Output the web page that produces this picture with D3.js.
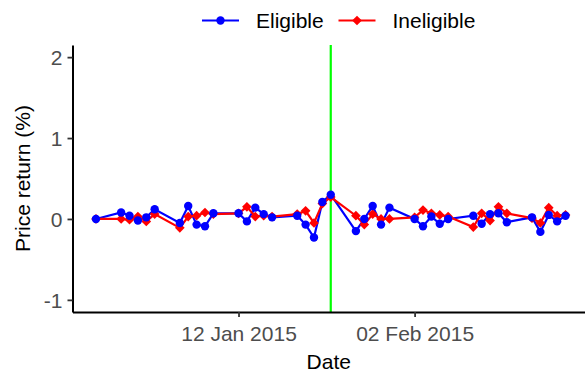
<!DOCTYPE html>
<html>
<head>
<meta charset="utf-8">
<script src="https://cdn.jsdelivr.net/npm/d3@7"></script>
<style>
  body { margin: 0; background: #fff; }
  svg text { font-family: "Liberation Sans", Arial, sans-serif; }
</style>
</head>
<body>
<div id="graphic"></div>
<script>
// trading days, Dec 2014 - Feb 2015
var dates = [
  "2014-12-26", "2014-12-29", "2014-12-30", "2014-12-31", "2015-01-01", "2015-01-02",
  "2015-01-05", "2015-01-06", "2015-01-07", "2015-01-08", "2015-01-09",
  "2015-01-12", "2015-01-13", "2015-01-14", "2015-01-15", "2015-01-16",
  "2015-01-19", "2015-01-20", "2015-01-21", "2015-01-22", "2015-01-23",
  "2015-01-26", "2015-01-27", "2015-01-28", "2015-01-29", "2015-01-30",
  "2015-02-02", "2015-02-03", "2015-02-04", "2015-02-05", "2015-02-06",
  "2015-02-09", "2015-02-10", "2015-02-11", "2015-02-12", "2015-02-13",
  "2015-02-16", "2015-02-17", "2015-02-18", "2015-02-19", "2015-02-20"
];
var eligible = [
  0.00, 0.08, 0.04, -0.02, 0.02, 0.12,
  -0.05, 0.16, -0.07, -0.09, 0.07,
  0.07, -0.03, 0.14, 0.06, 0.02,
  0.04, -0.07, -0.23, 0.21, 0.30,
  -0.15, 0.00, 0.16, -0.07, 0.14,
  0.00, -0.09, 0.03, -0.06, 0.00,
  0.04, -0.06, 0.06, 0.07, -0.04,
  0.02, -0.16, 0.05, -0.03, 0.04
];
var ineligible = [
  0.00, 0.00, -0.01, 0.03, -0.03, 0.06,
  -0.11, 0.03, 0.04, 0.08, 0.06,
  0.07, 0.15, 0.03, 0.04, 0.03,
  0.06, 0.10, -0.05, 0.19, 0.27,
  0.04, -0.07, 0.06, 0.00, 0.00,
  0.02, 0.11, 0.07, 0.05, 0.03,
  -0.10, 0.07, -0.02, 0.15, 0.07,
  0.01, -0.05, 0.14, 0.04, 0.05
];
var seriesNames = ["Eligible", "Ineligible"];
var seriesColors = ["#0000FF", "#FF0000"];
var eventDate = "2015-01-23";
var xTicks = ["2015-01-12", "2015-02-02"];
var yTicks = [-1, 0, 1, 2];

var w = 585, h = 375;
var padL = 72.5, padR = 589, padT = 45, padB = 312;

var parse = d3.utcParse("%Y-%m-%d");

var elig = dates.map(function(d, i){ return [parse(d), eligible[i]]; });
var inel = dates.map(function(d, i){ return [parse(d), ineligible[i]]; });

var d0 = parse(dates[0]), d1 = parse(dates[dates.length - 1]);
var pad = (d1 - d0) * 0.05;

var xScale = d3.scaleUtc()
  .domain([new Date(+d0 - pad), new Date(+d1 + pad)])
  .range([padL, padR]);
var yScale = d3.scaleLinear()
  .domain([-1.15, 2.15])
  .range([padB, padT]);

var svg = d3.select("#graphic")
  .append("svg")
  .attr("width", w)
  .attr("height", h);

// vertical event line
svg.append("line")
  .attr("x1", xScale(parse(eventDate)))
  .attr("x2", xScale(parse(eventDate)))
  .attr("y1", padT)
  .attr("y2", padB)
  .attr("stroke", "#00FF00")
  .attr("stroke-width", 2.2);

var line = d3.line()
  .x(function(d){ return xScale(d[0]); })
  .y(function(d){ return yScale(d[1]); });

svg.append("path").datum(elig)
  .attr("d", line).attr("fill", "none")
  .attr("stroke", seriesColors[0]).attr("stroke-width", 2.2);
svg.append("path").datum(inel)
  .attr("d", line).attr("fill", "none")
  .attr("stroke", seriesColors[1]).attr("stroke-width", 2.2);

var diamond = d3.symbol().type(d3.symbolDiamond2).size(60);

svg.append("g").selectAll("path")
  .data(inel).enter()
  .append("path")
  .attr("d", diamond)
  .attr("transform", function(d){ return "translate(" + xScale(d[0]) + "," + yScale(d[1]) + ")"; })
  .attr("fill", seriesColors[1]);

svg.append("g").selectAll("circle")
  .data(elig).enter()
  .append("circle")
  .attr("cx", function(d){ return xScale(d[0]); })
  .attr("cy", function(d){ return yScale(d[1]); })
  .attr("r", 4.2)
  .attr("fill", seriesColors[0]);

// axes
var xAxis = svg.append("g")
  .attr("transform", "translate(0," + padB + ")")
  .call(d3.axisBottom(xScale)
    .tickValues(xTicks.map(parse))
    .tickFormat(d3.utcFormat("%d %b %Y"))
    .tickSizeInner(5).tickSizeOuter(0).tickPadding(9));
var yAxis = svg.append("g")
  .attr("transform", "translate(" + padL + ",0)")
  .call(d3.axisLeft(yScale)
    .tickValues(yTicks)
    .tickFormat(function(d){ return String(d); })
    .tickSizeInner(5).tickSizeOuter(0).tickPadding(5));

[xAxis, yAxis].forEach(function(a){
  a.select(".domain").attr("stroke", "#000").attr("stroke-width", 2);
  a.selectAll(".tick line").attr("stroke", "#333").attr("stroke-width", 1.8);
  a.selectAll(".tick text")
    .attr("fill", "#4D4D4D")
    .style("font-size", "21px")
    .style("font-family", "'Liberation Sans', Arial, sans-serif");
});
yAxis.selectAll(".tick text").attr("dy", "0.35em");

svg.append("text")
  .attr("x", (padL + padR) / 2 - 2)
  .attr("y", 369)
  .attr("text-anchor", "middle")
  .style("font-size", "21px")
  .text("Date");

svg.append("text")
  .attr("transform", "translate(30," + (padT + padB) / 2 + ") rotate(-90)")
  .attr("text-anchor", "middle")
  .style("font-size", "21px")
  .text("Price return (%)");

// legend
var legend = svg.append("g");
var legendX = [202, 338.5];
seriesNames.forEach(function(name, i){
  var g = legend.append("g").attr("transform", "translate(" + legendX[i] + ",20.5)");
  g.append("line")
    .attr("x1", 0).attr("x2", 37)
    .attr("stroke", seriesColors[i]).attr("stroke-width", 2.2);
  if (i === 0) {
    g.append("circle").attr("cx", 18.5).attr("cy", 0).attr("r", 4.2).attr("fill", seriesColors[i]);
  } else {
    g.append("path").attr("d", diamond).attr("transform", "translate(18.5,0)").attr("fill", seriesColors[i]);
  }
  g.append("text")
    .attr("x", 54)
    .attr("y", 7)
    .style("font-size", "21px")
    .text(name);
});
</script>
</body>
</html>
